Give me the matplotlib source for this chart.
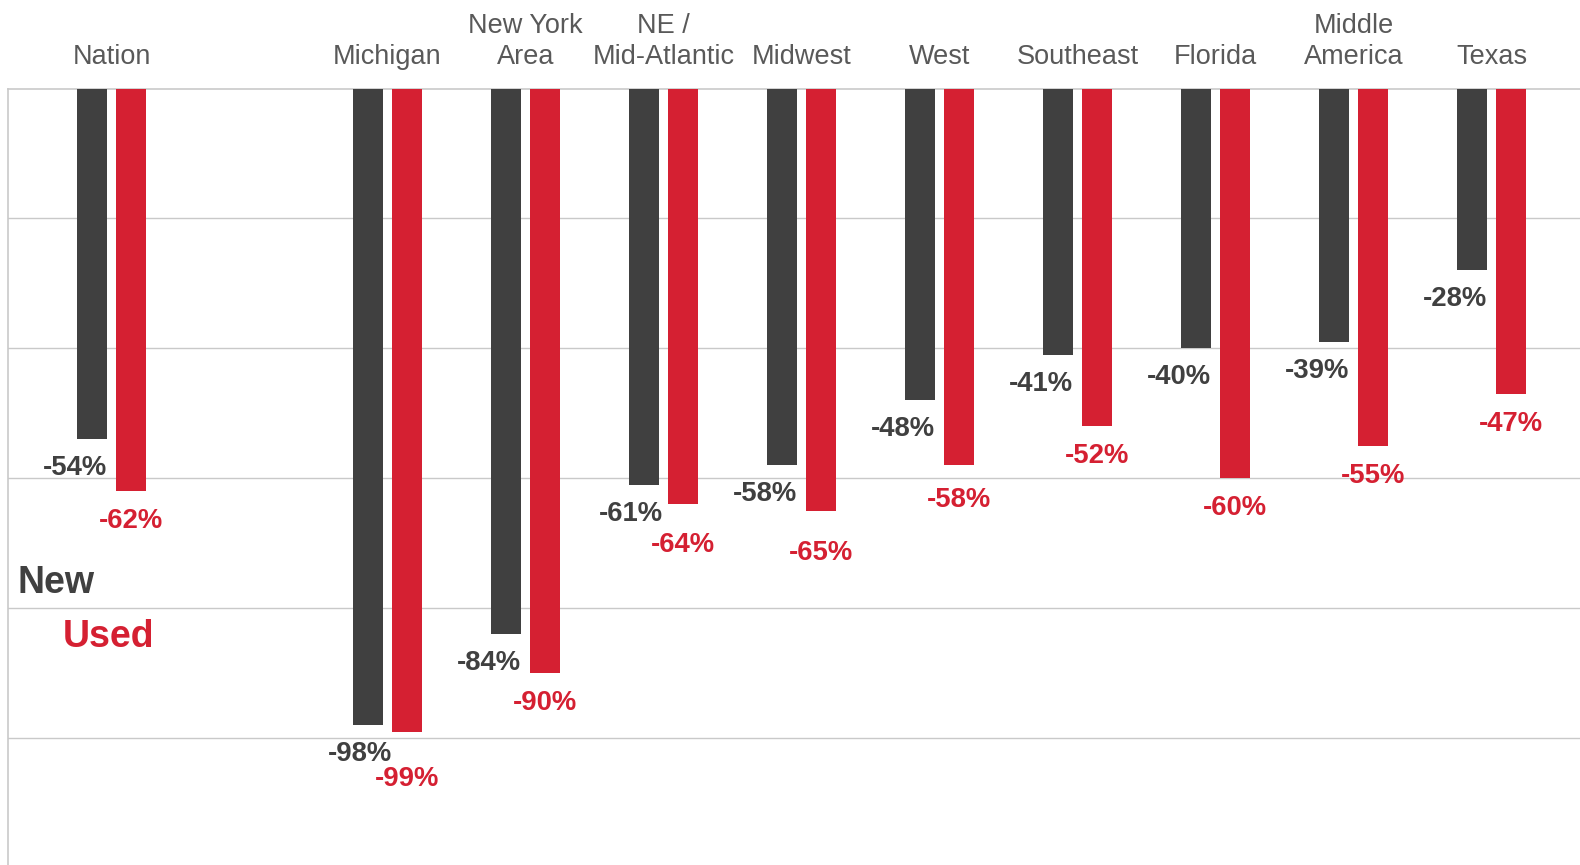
import matplotlib

matplotlib.use("Agg")
import matplotlib.pyplot as plt
import numpy as np

# regional sales change, new vs used
categories = ["Nation", "", "Michigan", "New York\nArea", "NE /\nMid-Atlantic", "Midwest",
              "West", "Southeast", "Florida", "Middle\nAmerica", "Texas"]
new_pct = [-54, None, -98, -84, -61, -58, -48, -41, -40, -39, -28]
used_pct = [-62, None, -99, -90, -64, -65, -58, -52, -60, -55, -47]

# hand nudges (pixels) so crowded value labels don't collide
new_label_dx = [0, 0, 9, 0, 4, 0, 0, 0, 0, 0, 0]
used_label_dy = [0, 0, -17, 0, -11, -12, -5, 0, 0, 0, 0]

DARK = "#404040"
RED = "#D52032"
GRAY_TEXT = "#595959"
GRID = "#C9C9C9"

plt.rcParams["font.family"] = ["Liberation Sans", "DejaVu Sans"]

W, H = 1580, 865
fig = plt.figure(figsize=(W / 100, H / 100), dpi=100)
ax = fig.add_axes([8 / W, 0, 1 - 8 / W, 1 - 88.5 / H])

x = np.arange(len(categories))
width = 0.22
offset = 0.14

for i, (xi, n, u) in enumerate(zip(x, new_pct, used_pct)):
    if n is None:
        continue
    ax.bar(xi - offset, n, width, color=DARK, zorder=3)
    ax.bar(xi + offset, u, width, color=RED, zorder=3)
    ax.annotate(f"{n}%", xy=(xi - offset, n), xytext=(-17 + new_label_dx[i], -29),
                textcoords="offset pixels", ha="center", va="center",
                fontsize=19.8, fontweight="bold", color=DARK)
    ax.annotate(f"{u}%", xy=(xi + offset, u), xytext=(0, -30 + used_label_dy[i]),
                textcoords="offset pixels", ha="center", va="center",
                fontsize=19.8, fontweight="bold", color=RED)

ax.set_xlim(-0.75, (W - 111.5) / 138)
ax.set_ylim(-119.5, 0)

ax.set_yticks([-20, -40, -60, -80, -100])
ax.yaxis.grid(True, color=GRID, linewidth=1.0, zorder=0)
ax.tick_params(axis="y", length=0, labelleft=False)

ax.xaxis.tick_top()
ax.set_xticks(x)
ax.set_xticklabels(categories, fontsize=19.5, color=GRAY_TEXT, linespacing=1.27)
ax.tick_params(axis="x", length=0, pad=13)

for side in ["right", "bottom"]:
    ax.spines[side].set_visible(False)
for side in ["top", "left"]:
    ax.spines[side].set_color(GRID)
    ax.spines[side].set_linewidth(1.2)

fig.text(18 / W, 1 - 593 / H, "New", fontsize=27, fontweight="bold", color=DARK, va="baseline")
fig.text(63 / W, 1 - 647 / H, "Used", fontsize=27, fontweight="bold", color=RED, va="baseline")

fig.savefig("out.png", dpi=100)
